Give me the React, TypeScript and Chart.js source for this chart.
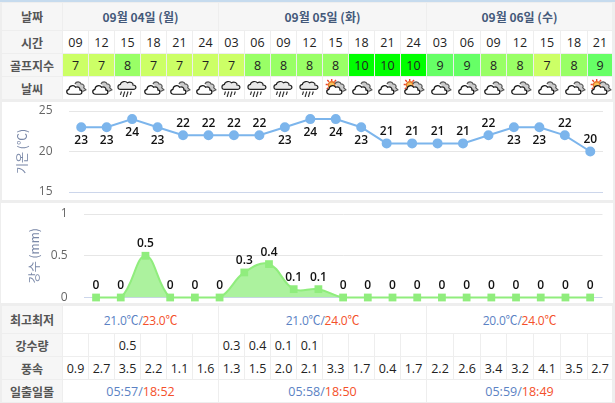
import React, { useEffect, useRef } from "react";
import { Chart, registerables } from "chart.js";

Chart.register(...registerables);

const times = ["09","12","15","18","21","24","03","06","09","12","15","18","21","24","03","06","09","12","15","18","21"];
const golfIndex = [7,7,8,7,7,7,7,8,8,8,8,10,10,10,9,9,8,8,7,8,9];
const weather = ["c","c","r","c","c","c","r","r","r","r","s","c","c","s","c","c","c","c","c","c","s"];
const temps = [23,23,24,23,22,22,22,22,23,24,24,23,21,21,21,21,22,23,23,22,20];
const rain = [0,0,0.5,0,0,0,0.3,0.4,0.1,0.1,0,0,0,0,0,0,0,0,0,0,0];
const rainText = ["","","0.5","","","","0.3","0.4","0.1","0.1","","","","","","","","","","",""];
const wind = ["0.9","2.7","3.5","2.2","1.1","1.6","1.3","1.5","2.0","2.1","3.3","1.7","0.4","1.7","2.2","2.6","3.4","3.2","4.1","3.5","2.7"];
const dates = ["09월 04일 (월)","09월 05일 (화)","09월 06일 (수)"];
const lows = ["21.0℃","21.0℃","20.0℃"];
const highs = ["23.0℃","24.0℃","24.0℃"];
const rises = ["05:57","05:58","05:59"];
const sets = ["18:52","18:50","18:49"];

const colX = [63,89,115,141,167,193,219,245,271,297,323,349,375,401,427,454,481,507,534,561,588,613];
const dayX = [63,219,427,613];
const FONT = '"Open Sans","Noto Sans CJK KR",sans-serif';
const KFONT = '"Noto Sans CJK KR",sans-serif';
const indexColor: Record<number,string> = {7:"#ccff66",8:"#99ff66",9:"#66ff66",10:"#00ff00"};

function pointLabels(fmtBelow: (v:number)=>boolean) {
  return {
    id: "pointLabels",
    afterDatasetsDraw(chart: any) {
      const ctx = chart.ctx;
      const meta = chart.getDatasetMeta(0);
      const values = chart.data.datasets[0].data as number[];
      ctx.save();
      ctx.font = `600 12px ${FONT}`;
      ctx.fillStyle = "#111";
      ctx.textAlign = "center";
      ctx.textBaseline = "middle";
      meta.data.forEach((p:any,i:number)=>{
        const v = values[i];
        ctx.fillText(String(v), p.x, p.y + (fmtBelow(v) ? 13 : -12));
      });
      ctx.restore();
    },
  };
}

function Icon({kind}:{kind:string}) {
  const front = "M5 15.5 C2 15.5 1.5 11.5 4.5 11 C4.5 7.5 9 6.5 10.5 9 C12.5 8 15 9.5 14.5 11.5 C17 11.5 17 15.5 14.5 15.5 Z";
  const back = "M10 6 C11 3.5 15 3.5 15.5 6 C18 6 19 8 18 9.5 L20 11.5 L17 13";
  return (
    <svg width="23" height="18" viewBox="0 1.5 21 16.5" style={{display:"block"}}>
      {kind==="s" && <g stroke="#e8442a" strokeWidth="1.3">
        <path d="M7 1.5 V3.5 M1.5 6.5 H3.5 M3 2.5 L4.5 4 M11 2.5 L9.5 4 M2.5 10.5 L4 9.5"/>
        <circle cx="7" cy="7" r="3" fill="#f7c35a" stroke="#e8742a"/>
      </g>}
      {kind!=="r" && <path d={back} fill="#ccc" stroke="#555" strokeWidth="1.1"/>}
      {kind==="r"
        ? <g>
            <path d="M4 11 C1 11 1 7 4 6.5 C4.5 3.5 9 3 10.5 5 C13 3.5 16 5 15.5 7 C19 7 19 11 16 11 Z" fill="#e8e8e8" stroke="#222" strokeWidth="1.1"/>
            <path d="M5 13 L4 16 M8 13 L7 16 M11 13 L10 16 M14 13 L13 16 M7 16 L6.5 18 M10 16 L9.5 18" stroke="#333" strokeWidth="1.1" fill="none"/>
          </g>
        : <path d={front} fill="#fff" stroke="#111" strokeWidth="1.1"/>}
    </svg>
  );
}

function Cell({x0,x1,y0,y1,bg,children,style}:any) {
  return <div style={{position:"absolute",left:x0,top:y0,width:x1-x0-1,height:y1-y0,background:bg ?? "#fff",
    display:"flex",alignItems:"center",justifyContent:"center",whiteSpace:"nowrap",fontFamily:FONT,fontSize:12.5,color:"#222",...style}}>{children}</div>;
}

function Head({y0,y1,text}:any) {
  return <Cell x0={2} x1={63} y0={y0} y1={y1} bg="#f6f6f6" style={{fontFamily:KFONT,fontWeight:700,fontSize:12,color:"#555"}}>{text}</Cell>;
}

function useChartOn(ref:any, make:()=>any) {
  useEffect(()=>{
    const c = new Chart(ref.current, make());
    return ()=>c.destroy();
  },[]);
}

export default function App() {
  const a = useRef<HTMLCanvasElement>(null);
  const b = useRef<HTMLCanvasElement>(null);

  useChartOn(a, ()=>({
    type:"line",
    data:{labels:times,datasets:[{data:temps,borderColor:"#7cb5ec",backgroundColor:"#7cb5ec",borderWidth:2,pointRadius:4,pointHoverRadius:4,tension:0,clip:false}]},
    plugins:[pointLabels(v=>v>=23)],
    options:{
      animation:false,responsive:false,
      layout:{padding:{top:9,bottom:8,right:12,left:0}},
      plugins:{legend:{display:false},tooltip:{enabled:false}},
      scales:{
        x:{display:false,offset:true},
        y:{min:15,max:25,
          afterFit:(s:any)=>{s.width=68.5;},
          border:{display:false},
          grid:{drawTicks:true,tickLength:16,tickColor:"transparent",color:(c:any)=>c.tick.value===15?"#ccd6eb":"#e6e6e6"},
          ticks:{stepSize:5,padding:0,color:"#666",font:{size:12,family:FONT}},
          title:{display:true,text:"기온 (℃)",color:"#7a88a8",font:{size:12,family:KFONT},padding:{top:15,bottom:0}},
        },
      },
    },
  }));

  useChartOn(b, ()=>({
    type:"line",
    data:{labels:times,datasets:[{data:rain,borderColor:"#90ed7d",backgroundColor:"rgba(144,237,125,0.75)",fill:"origin",borderWidth:2,pointStyle:"rect",pointRadius:5.5,pointHoverRadius:5.5,pointBackgroundColor:"#90ed7d",pointBorderWidth:0,tension:0.4,clip:false}]},
    plugins:[pointLabels(()=>false)],
    options:{
      animation:false,responsive:false,
      layout:{padding:{top:11,bottom:7.5,right:12.5,left:0}},
      plugins:{legend:{display:false},tooltip:{enabled:false}},
      scales:{
        x:{display:false,offset:true},
        y:{min:0,max:1,
          afterFit:(s:any)=>{s.width=83.7;},
          border:{display:false},
          grid:{drawTicks:true,tickLength:16,tickColor:"transparent",color:(c:any)=>c.tick.value===0?"#ccd6eb":"#e6e6e6"},
          ticks:{stepSize:0.5,padding:0,color:"#666",font:{size:12,family:FONT},callback:(v:any)=>String(v)},
          title:{display:true,text:"강수 (mm)",color:"#7a88a8",font:{size:12,family:KFONT},padding:{top:27,bottom:0}},
        },
      },
    },
  }));

  return (
    <div style={{position:"absolute",left:0,top:0,width:615,height:403,background:"#eeeeee",overflow:"hidden"}}>
      <div style={{position:"absolute",left:0,top:0,width:615,height:2,background:"#c6dbee"}}/>
      <Head y0={3} y1={30} text="날짜"/>
      <Head y0={31} y1={53} text="시간"/>
      <Head y0={54} y1={76} text="골프지수"/>
      <Head y0={77} y1={99} text="날씨"/>
      {dates.map((d,i)=><Cell key={d} x0={dayX[i]} x1={dayX[i+1]} y0={3} y1={30} bg="#f6f6f6" style={{fontFamily:KFONT,fontWeight:700,fontSize:12,color:"#44597a"}}>{d}</Cell>)}
      {times.map((t,i)=><Cell key={"t"+i} x0={colX[i]} x1={colX[i+1]} y0={31} y1={53}>{t}</Cell>)}
      {golfIndex.map((g,i)=><Cell key={"g"+i} x0={colX[i]} x1={colX[i+1]} y0={54} y1={76} bg={indexColor[g]}>{g}</Cell>)}
      {weather.map((w,i)=><Cell key={"w"+i} x0={colX[i]} x1={colX[i+1]} y0={77} y1={99}><Icon kind={w}/></Cell>)}

      <div style={{position:"absolute",left:2,top:102,width:611,height:98,background:"#fff"}}/>
      <canvas ref={a} width={615} height={98} style={{position:"absolute",left:0,top:102}}/>
      <div style={{position:"absolute",left:1,top:203,width:612,height:100,background:"#fff"}}/>
      <canvas ref={b} width={615} height={102} style={{position:"absolute",left:0,top:203}}/>

      <Head y0={306} y1={333} text="최고최저"/>
      <Head y0={334} y1={356} text="강수량"/>
      <Head y0={357} y1={379} text="풍속"/>
      <Head y0={380} y1={402} text="일출일몰"/>
      {lows.map((l,i)=><Cell key={"l"+i} x0={dayX[i]} x1={dayX[i+1]} y0={306} y1={333} style={{color:"#5b82c4",fontSize:12,letterSpacing:-0.2}}>{l}/<span style={{color:"#f4502a"}}>{highs[i]}</span></Cell>)}
      {rainText.map((r,i)=><Cell key={"r"+i} x0={colX[i]} x1={colX[i+1]} y0={334} y1={356}>{r}</Cell>)}
      {wind.map((w,i)=><Cell key={"v"+i} x0={colX[i]} x1={colX[i+1]} y0={357} y1={379}>{w}</Cell>)}
      {rises.map((r,i)=><Cell key={"u"+i} x0={dayX[i]} x1={dayX[i+1]} y0={380} y1={402} style={{color:"#5b82c4"}}>{r}/<span style={{color:"#f4502a"}}>{sets[i]}</span></Cell>)}
    </div>
  );
}
